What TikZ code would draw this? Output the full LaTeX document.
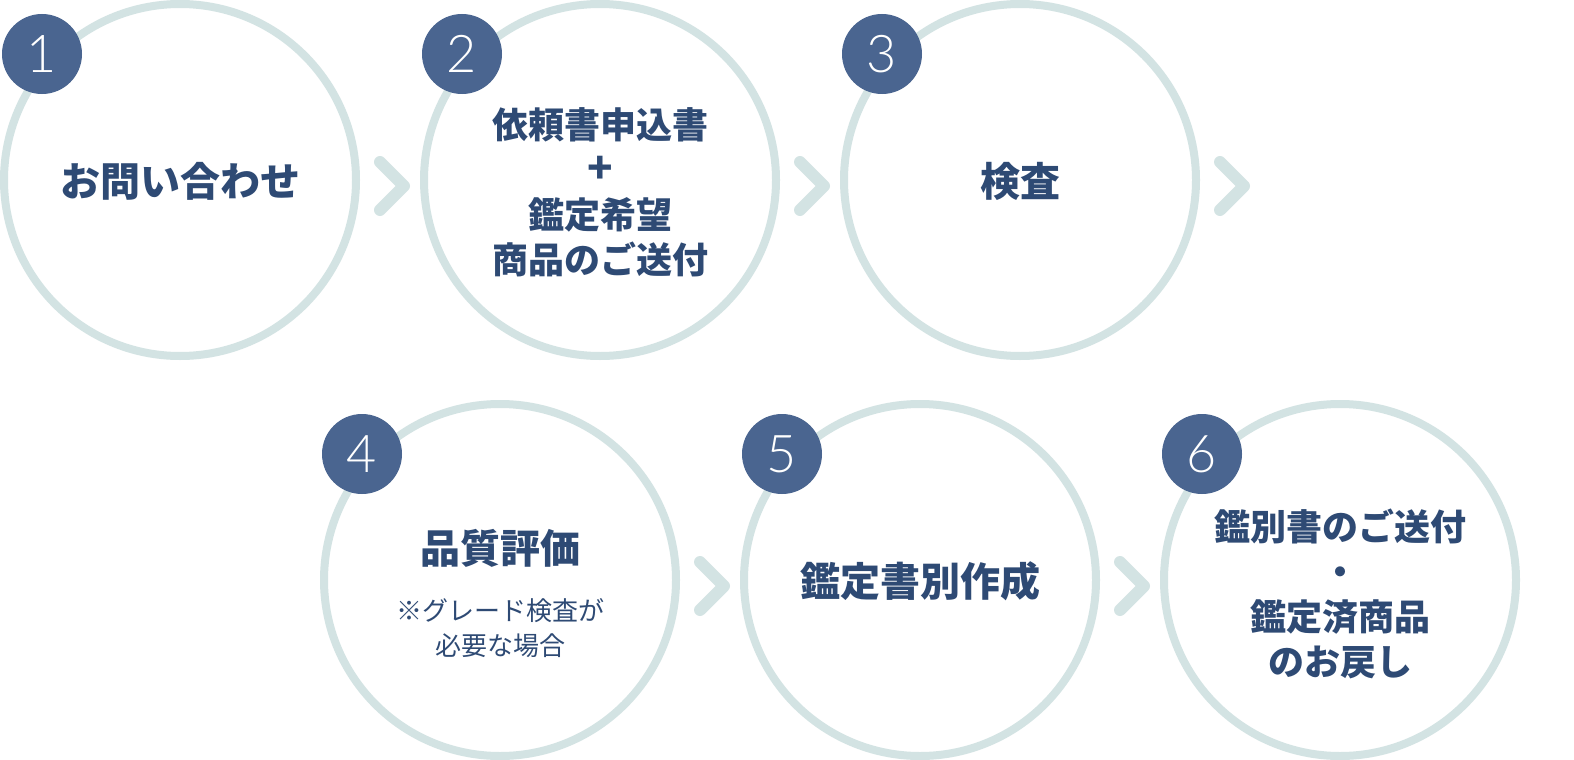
\documentclass[tikz,border=0pt]{standalone}
\usepackage{fontspec}
\newfontfamily\jpfont{Noto Sans CJK JP}
\newfontfamily\badgefont{Lato Light}
\usetikzlibrary{calc}
\definecolor{ringc}{HTML}{D3E3E3}
\definecolor{badgec}{HTML}{4A6590}
\definecolor{inkc}{HTML}{2E4A74}
\begin{document}
\begin{tikzpicture}[x=1pt,y=-1pt,
 ring/.style={circle, draw=ringc, line width=8pt, minimum size=352pt, inner sep=0pt},
 badge/.style={circle, fill=badgec, minimum size=80pt, inner sep=0pt, text=white, font=\badgefont\fontsize{52}{52}\selectfont},
 head/.style={text=inkc, align=center, inner sep=0pt, font=\jpfont\bfseries\fontsize{40}{48}\selectfont},
 multi/.style={text=inkc, align=center, inner sep=0pt, font=\jpfont\bfseries\fontsize{36}{45}\selectfont},
 note/.style={text=inkc, align=center, inner sep=0pt, font=\jpfont\fontsize{26}{35}\selectfont},
 chev/.style={draw=ringc, line width=12pt, line cap=round, line join=round}]
\useasboundingbox (0,0) rectangle (1574,760);
\fill[white] (0,0) rectangle (1574,760);
% rings
\node[ring] (c1) at (180,180) {};
\node[ring] (c2) at (600,180) {};
\node[ring] (c3) at (1020,180) {};
\node[ring] (c4) at (500,580) {};
\node[ring] (c5) at (920,580) {};
\node[ring] (c6) at (1340,580) {};
% badges
\node[badge] (b1) at ($(c1)+(-138,-126)$) {1};
\node[badge] (b2) at ($(c2)+(-138,-126)$) {2};
\node[badge] (b3) at ($(c3)+(-138,-126)$) {3};
\node[badge] (b4) at ($(c4)+(-138,-126)$) {4};
\node[badge] (b5) at ($(c5)+(-138,-126)$) {5};
\node[badge] (b6) at ($(c6)+(-138,-126)$) {6};
% chevrons
\foreach \c in {c1,c2,c3,c4,c5}{
  \draw[chev] ($(\c.east)+(20,-18)$) -- ($(\c.east)+(44,6)$) -- ($(\c.east)+(20,30)$);
}
% texts
\node[head] (t1) at ($(c1)+(0,1)$) {お問い合わせ};
\node[multi] (t2) at ($(c2)+(0,12)$) {依頼書申込書\\{\fontsize{42}{45}\selectfont +}\\鑑定希望\\商品のご送付};
\node[head] (t3) at ($(c3)+(0,1)$) {検査};
\node[head] (t4) at ($(c4)+(0,-32)$) {品質評価};
\node[note] (n4) at ($(c4)+(0,48)$) {※グレード検査が\\必要な場合};
\node[head] (t5) at ($(c5)+(0,1)$) {鑑定書別作成};
\node[multi] (t6) at ($(c6)+(0,14)$) {鑑別書のご送付\\・\\鑑定済商品\\のお戻し};
\end{tikzpicture}
\end{document}
